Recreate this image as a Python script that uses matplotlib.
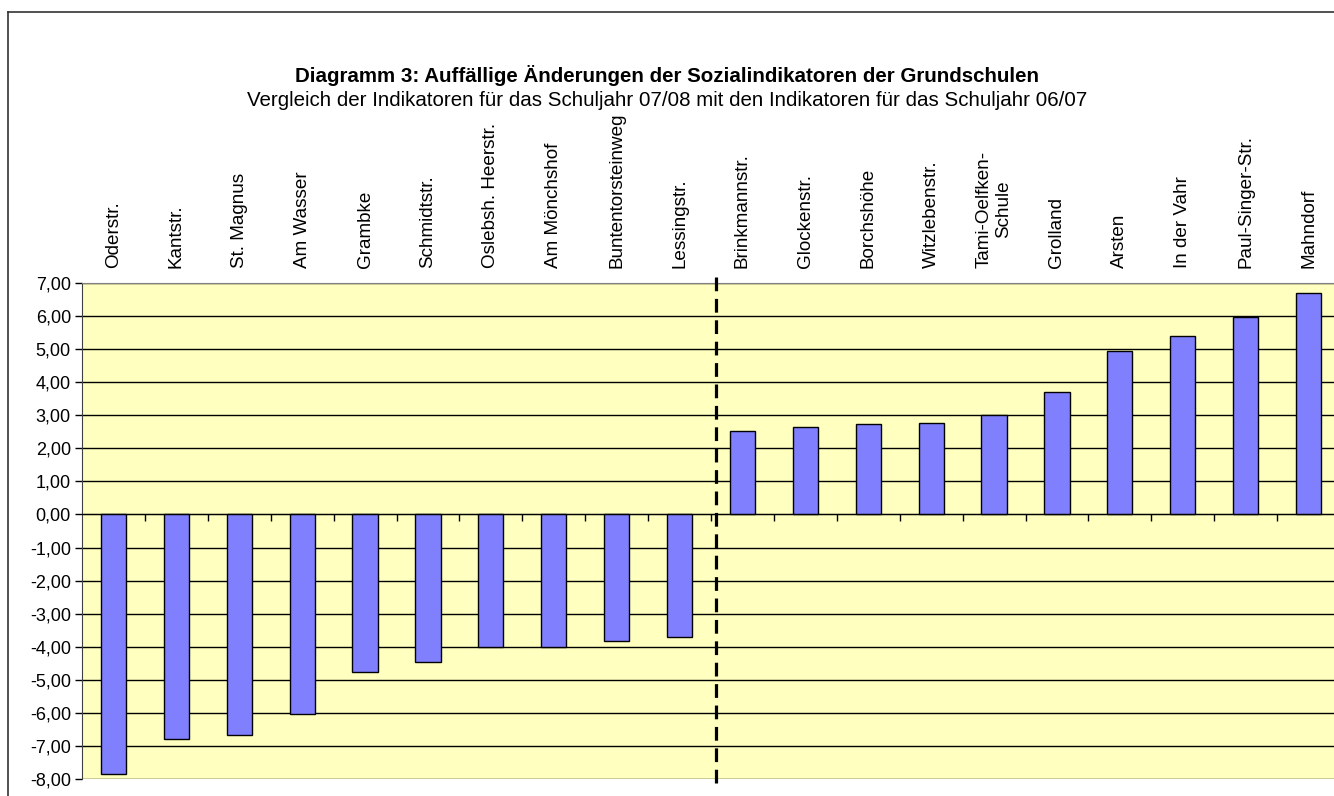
import numpy as np
import matplotlib
matplotlib.use('Agg')
import matplotlib.pyplot as plt
from matplotlib.ticker import FuncFormatter, FixedLocator
from matplotlib.lines import Line2D

plt.rcParams['font.family'] = ['Liberation Sans', 'DejaVu Sans']

schools = ['Oderstr.', 'Kantstr.', 'St. Magnus', 'Am Wasser', 'Grambke',
           'Schmidtstr.', 'Oslebsh. Heerstr.', 'Am Mönchshof', 'Buntentorsteinweg',
           'Lessingstr.', 'Brinkmannstr.', 'Glockenstr.', 'Borchshöhe',
           'Witzlebenstr.', 'Tami-Oelfken-\nSchule', 'Grolland', 'Arsten',
           'In der Vahr', 'Paul-Singer-Str.', 'Mahndorf']
changes = [-7.86, -6.78, -6.68, -6.03, -4.77,
           -4.45, -4.00, -4.00, -3.83, -3.72,
           2.51, 2.65, 2.74, 2.78, 3.01,
           3.69, 4.95, 5.39, 5.97, 6.69]
yticks = np.arange(-8, 8, 1)

title = 'Diagramm 3: Auffällige Änderungen der Sozialindikatoren der Grundschulen'
subtitle = ('Vergleich der Indikatoren für das Schuljahr 07/08 mit den '
            'Indikatoren für das Schuljahr 06/07')

W, H = 1334, 796
fig = plt.figure(figsize=(W / 100, H / 100), dpi=100)
ax = fig.add_axes([82 / W, 1 - 779 / H, 1258 / W, (779 - 283) / H])
ax.set_facecolor('#FFFFC0')

x = np.arange(len(schools))
ax.bar(x, changes, width=0.4, color='#8080FF', edgecolor='black', linewidth=1.0, zorder=3)

ax.set_xlim(-0.5, len(schools) - 0.5)
ax.set_ylim(yticks[0], yticks[-1])
ax.set_yticks(yticks)
ax.yaxis.set_major_formatter(FuncFormatter(lambda v, p: ('%.2f' % v).replace('.', ',')))
ax.tick_params(axis='y', direction='out', length=5, width=1, labelsize=13, pad=3)
ax.grid(axis='y', color='black', linewidth=1.0, zorder=1)
ax.set_axisbelow(True)

# category axis sits at zero, ticks between the bars
ax.spines['bottom'].set_position(('data', 0))
ax.spines['bottom'].set_zorder(4)
ax.xaxis.set_major_locator(FixedLocator(x[:-1] + 0.5))
ax.tick_params(axis='x', direction='out', length=5, width=1, labelbottom=False)
for s in ['top', 'right']:
    ax.spines[s].set_color('#808080')
ax.spines['left'].set_color('#404040')

# school names above the plot
top = ax.secondary_xaxis('top')
top.set_xticks(x)
top.set_xticklabels(schools, rotation=90, fontsize=13.6, ha='center', va='bottom',
                    multialignment='center')
top.tick_params(length=0, pad=11)
top.spines['top'].set_visible(False)

# separator between decreases and increases
n_neg = sum(1 for v in changes if v < 0)
ax.plot([n_neg - 0.42, n_neg - 0.42], [7.18, -8.22], color='black', linewidth=2.3,
        dashes=(4.3, 2.4), clip_on=False, zorder=5)

fig.text(0.5, 1 - 76 / H, title, ha='center', va='center', fontsize=14.8, fontweight='bold')
fig.text(0.5, 1 - 100 / H, subtitle, ha='center', va='center', fontsize=14.8)

# chart frame
fig.add_artist(Line2D([8 / W, 8 / W], [0, 1 - 12 / H], color='#333333', linewidth=1.2))
fig.add_artist(Line2D([8 / W, 1], [1 - 12 / H, 1 - 12 / H], color='#333333', linewidth=1.2))

fig.savefig('out.png', dpi=100)
